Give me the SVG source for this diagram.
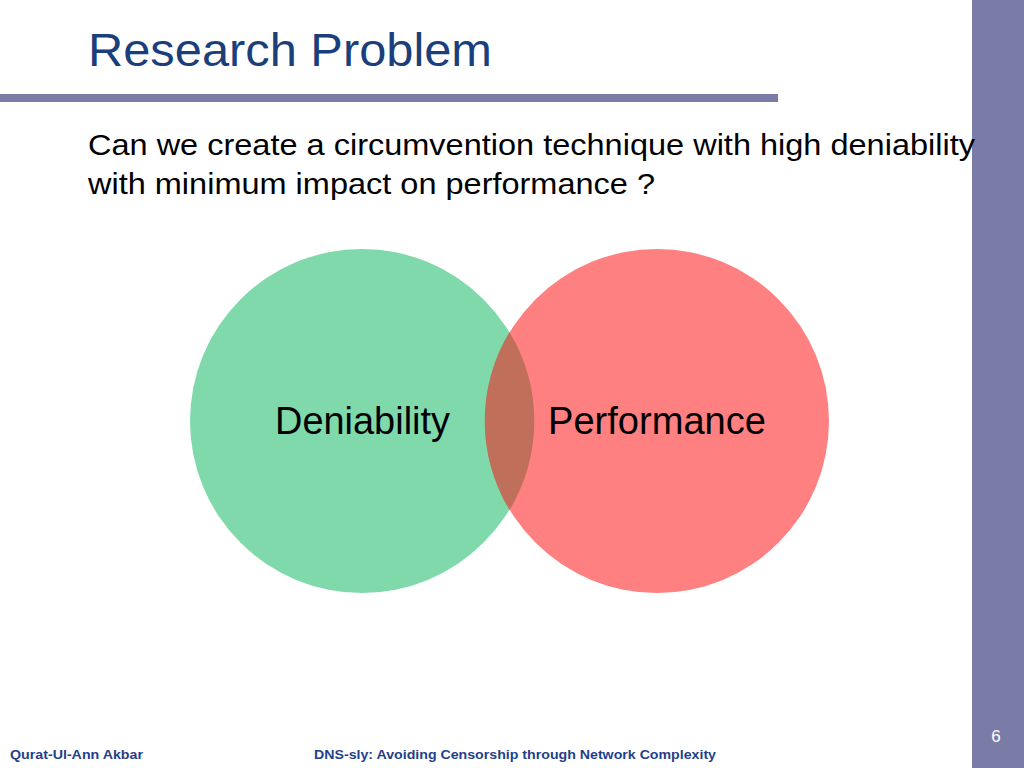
<svg xmlns="http://www.w3.org/2000/svg" width="1024" height="768" viewBox="0 0 1024 768">
<style>
text{font-family:"Liberation Sans",Arial,sans-serif}
.body{font-size:30px;fill:#000}
.foot{font-size:13px;font-weight:bold;fill:#1F3F8C}
.lbl{font-size:38px;fill:#000}
</style>
<rect width="1024" height="768" fill="#fff"/>
<rect x="972" y="0" width="52" height="768" fill="#7B7BA8"/>
<rect x="0" y="94" width="778" height="8" fill="#7B7BA8"/>
<text x="88" y="66" textLength="404" lengthAdjust="spacingAndGlyphs" style="font-size:47px;fill:#1A3F7A">Research Problem</text>
<text class="body" x="88" y="155" textLength="887" lengthAdjust="spacingAndGlyphs">Can we create a circumvention technique with high deniability</text>
<text class="body" x="88" y="194" textLength="567" lengthAdjust="spacingAndGlyphs">with minimum impact on performance ?</text>
<g id="deniability"><circle cx="362" cy="421" r="172" fill="#80D9AA"/></g>
<g id="performance"><circle cx="657" cy="421" r="172" fill="#FF8080"/></g>
<g id="overlap"><path d="M509.5,332 A172,172 0 0 1 509.5,510 A172,172 0 0 1 509.5,332 Z" fill="#C0705A"/></g>
<text class="lbl" x="275" y="434" textLength="175" lengthAdjust="spacingAndGlyphs">Deniability</text>
<text class="lbl" x="548" y="434" textLength="218" lengthAdjust="spacingAndGlyphs">Performance</text>
<g id="connectors"/>
<text x="996" y="742" text-anchor="middle" style="font-size:17px;fill:#fff">6</text>
<text class="foot" x="10" y="759" textLength="133" lengthAdjust="spacingAndGlyphs">Qurat-Ul-Ann Akbar</text>
<text class="foot" x="314" y="759" textLength="402" lengthAdjust="spacingAndGlyphs">DNS-sly: Avoiding Censorship through Network Complexity</text>
</svg>
